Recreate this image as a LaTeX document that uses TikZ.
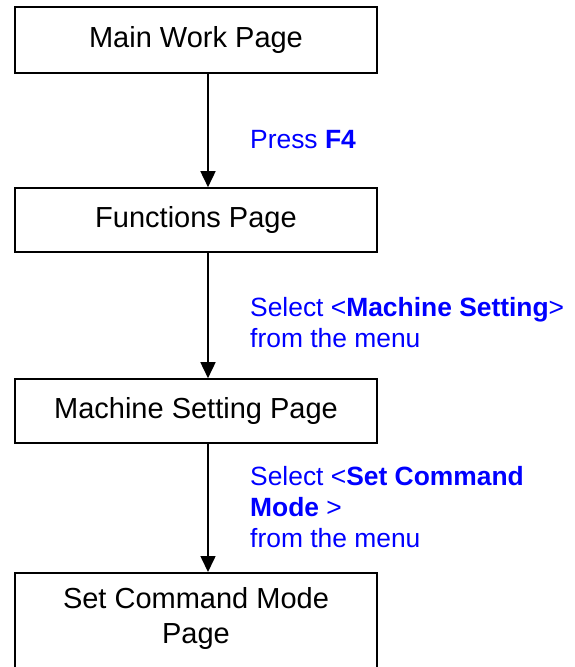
\documentclass[tikz,border=0pt]{standalone}
\usepackage{fontspec}
\setmainfont{Liberation Sans}
\usetikzlibrary{arrows.meta}
\definecolor{lblblue}{RGB}{0,0,255}
\tikzset{
  pagebox/.style={draw=black, line width=1.6pt, rectangle, inner sep=0pt, minimum width=362pt},
  boxtext/.style={font=\fontsize{29}{35}\selectfont, text=black, align=center, inner sep=0pt},
  steplabel/.style={font=\fontsize{26.4}{31}\selectfont, text=lblblue, align=left, inner sep=0pt, anchor=base west},
  flowarrow/.style={draw=black, line width=1.6pt, -{Triangle[width=15pt,length=16pt]}}
}
\begin{document}
\begin{tikzpicture}[x=1pt,y=-1pt]
\useasboundingbox (0,0) rectangle (574,667);
\clip (0,0) rectangle (574,667);
\coordinate (ax) at (208,0);
\node[pagebox, minimum height=66pt] (b1) at (196,40) {};
\node[boxtext, anchor=base] (t1) at (196,47.5) {Main Work Page};
\node[pagebox, minimum height=64pt] (b2) at (196,220) {};
\node[boxtext, anchor=base] (t2) at (196,227.5) {Functions Page};
\node[pagebox, minimum height=64pt] (b3) at (196,411) {};
\node[boxtext, anchor=base] (t3) at (196,418.5) {Machine Setting Page};
\node[pagebox, minimum height=130pt, anchor=north] (b4) at (196,572) {};
\node[boxtext, anchor=base] (t4) at (196,643) {Set Command Mode\\Page};
\draw[flowarrow] (ax |- b1.south) -- (ax |- b2.north);
\draw[flowarrow] (ax |- b2.south) -- (ax |- b3.north);
\draw[flowarrow] (ax |- b3.south) -- (ax |- b4.north);
\node[steplabel] (l1) at (250,148) {Press \textbf{F4}};
\node[steplabel] (l2) at (250,347) {Select <\textbf{Machine Setting}>\\from the menu};
\node[steplabel] (l3) at (250,547) {Select <\textbf{Set Command}\\\textbf{Mode} >\\from the menu};
\end{tikzpicture}
\end{document}
